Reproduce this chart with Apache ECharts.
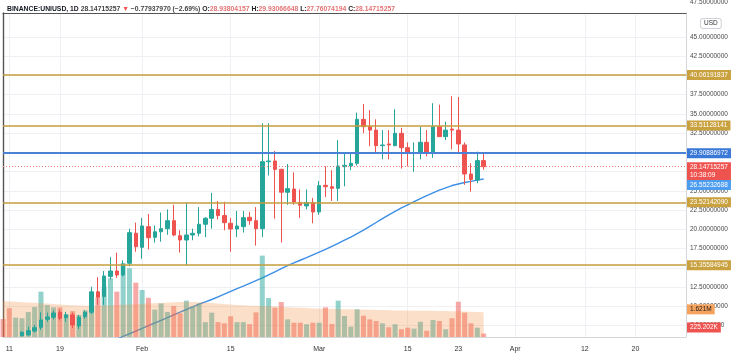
<!DOCTYPE html>
<html><head><meta charset="utf-8">
<script src="https://cdn.jsdelivr.net/npm/echarts@6/dist/echarts.min.js"></script>
<style>html,body{margin:0;padding:0;background:#fff}#c{width:736px;height:356px}</style>
</head><body><div id="c"></div>
<script>
// ---------- data ----------
const categoryStart = '2021-01-10';
const categoryCount = 109;

const candleStart = '2021-01-13';
const opens  = [6.2,6.3,6.8,7.29,8.33,8.6,9.24,8.54,8.9,7.46,8.67,9.24,11.9,11.3,13.9,14.6,14.08,15.6,19.5,17.68,20.36,18.98,19.7,20.1,21.14,19.19,18.63,19.28,19.5,20.67,21.45,22.6,21.8,20.8,20.06,20.36,21.58,21.14,20.1,28.8,28.89,27.8,24.83,25.25,23.48,23.05,23.48,22.27,25.73,25.55,25.34,28.15,28.24,28.59,34.3,33.35,32.9,30.88,31.1,30.88,32.48,30.62,29.93,29.97,31.32,29.97,33.35,32.05,33.04,32.9,30.97,27.2,26.42,28.938];
const closes = [6.64,6.85,7.24,8.24,8.63,9.15,8.46,8.9,7.6,8.6,9.24,11.9,11.2,13.95,14.6,14.08,15.51,19.58,17.76,20.45,18.93,19.7,20.1,21.14,19.28,18.63,19.28,19.5,20.67,21.45,22.6,21.8,20.88,20.06,20.45,21.53,21.14,20.1,28.8,28.89,27.8,24.83,25.3,23.57,23.14,23.48,22.27,25.68,25.55,25.34,28.24,28.33,28.59,34.3,33.35,32.9,30.88,30.97,30.97,32.48,30.62,29.97,29.97,31.32,29.97,33.35,32.05,32.9,32.9,31.1,27.2,26.5,28.94,28.147];
const lows   = [6.1,6.2,6.6,6.94,8.0,8.3,8.2,8.0,7.2,7.07,8.4,9.0,10.2,10.2,13.5,13.7,13.9,15.2,17.1,16.2,17.4,18.3,18.4,19.3,19.1,17.0,15.36,18.6,19.1,19.0,20.1,21.3,19.9,17.1,19.0,19.6,20.6,17.9,19.0,27.0,21.4,18.3,23.2,23.2,21.5,22.6,20.8,21.9,24.2,23.7,23.7,25.6,27.7,28.3,32.5,30.8,30.0,29.1,29.1,30.8,27.9,28.2,27.5,29.1,29.5,29.3,32.0,31.6,30.4,30.0,25.8,24.9,26.0,27.76];
const highs  = [6.8,7.37,7.6,9.24,9.2,9.5,9.6,9.3,9.2,8.9,9.5,12.56,13.8,14.6,16.4,17.0,16.0,20.1,20.88,21.5,22.0,20.5,22.2,22.6,23.2,19.9,23.52,20.1,22.9,21.6,24.75,23.7,23.6,21.5,22.4,22.4,22.3,22.9,33.8,33.8,30.2,27.9,28.5,27.4,25.2,25.2,24.1,26.3,28.2,27.7,31.6,30.0,29.8,35.17,36.3,35.5,34.3,32.9,32.9,35.6,33.2,31.3,31.3,33.35,32.9,36.4,36.2,34.0,37.3,37.2,31.3,28.6,30.1,29.93];

const maStart = '2021-01-27';
const ma = [5.4,5.75,6.1,6.45,6.8,7.15,7.5,7.85,8.2,8.55,8.9,9.25,9.6,9.95,10.3,10.6,10.9,11.25,11.6,11.95,12.3,12.65,13.0,13.35,13.7,14.1,14.5,14.9,15.3,15.65,16.0,16.35,16.7,17.05,17.4,17.8,18.2,18.6,19.0,19.45,19.9,20.4,20.9,21.4,21.9,22.35,22.8,23.2,23.6,24.0,24.4,24.75,25.1,25.4,25.7,25.9,26.1,26.25,26.4,26.55];

const volumeStart = '2021-01-10';
const volumes = [1.18,1.89,1.27,1.23,1.64,1.97,2.98,2.1,1.95,1.95,1.5,1.7,1.45,1.75,2.2,2.6,3.3,3.86,2.98,4.85,4.52,3.57,3.09,2.58,1.8,2.21,1.65,2.04,1.56,2.39,2.0,2.2,0.98,1.6,0.98,0.9,1.36,0.98,0.98,0.84,1.62,5.35,2.56,1.93,2.3,1.16,0.94,0.94,0.84,0.94,0.94,1.95,0.86,2.39,1.38,0.68,1.82,1.4,1.16,1.05,0.9,0.64,0.84,0.51,0.61,0.55,1.0,0.41,1.12,1.05,0.51,1.23,2.32,1.6,0.9,0.61,0.225202];
const volumeUpBeforeCandles = [false,false,true];
const volumeMA = [2.35,2.33,2.31,2.29,2.27,2.25,2.22,2.2,2.17,2.14,2.11,2.09,2.07,2.05,2.05,2.06,2.07,2.08,2.1,2.12,2.14,2.16,2.18,2.2,2.22,2.24,2.26,2.28,2.3,2.31,2.3,2.28,2.26,2.23,2.2,2.17,2.14,2.11,2.08,2.06,2.05,2.04,2.02,2.0,1.98,1.96,1.94,1.92,1.9,1.88,1.87,1.86,1.85,1.84,1.83,1.82,1.81,1.8,1.79,1.78,1.77,1.76,1.75,1.74,1.74,1.73,1.73,1.72,1.72,1.71,1.71,1.7,1.69,1.68,1.66,1.64,1.621];

const priceTicks = [7.5,10,12.5,15,17.5,20,22.5,25,27.5,30,32.5,35,37.5,40,42.5,45];
const topTickLabel = '47.50000000';
const xTickDates = ['2021-01-11','2021-01-19','2021-02-01','2021-02-15','2021-03-01','2021-03-15','2021-03-23','2021-04-01','2021-04-12','2021-04-20'];
const xTickLabels = ['11','19','Feb','15','Mar','15','23','Apr','12','20'];

const goldLevels = [40.06191837, 33.51128141, 23.52142090, 15.35584945];
const blueLevel = 29.90886972;
const lastPrice = 28.14715257;
const lastTime = '10:38:09';
const maLast = 26.55232688;
const volMALastLabel = '1.621M';
const volMALast = 1.621;
const lastVolumeLabel = '225.202K';
const lastVolume = 0.225202;

const headerSymbol = 'BINANCE:UNIUSD, 1D';
const headerPrice = '28.14715257';
const headerChange = '\u22120.77937970 (\u22122.69%)';
const headerO = '28.93804157', headerH = '29.93066648', headerL = '27.76074194', headerC = '28.14715257';

// ---------- build ----------
function addDays(s, n) {
  const d = new Date(s + 'T00:00:00Z');
  d.setUTCDate(d.getUTCDate() + n);
  return d.toISOString().slice(0, 10);
}
function dayIndex(s) {
  return Math.round((new Date(s + 'T00:00:00Z') - new Date(categoryStart + 'T00:00:00Z')) / 86400000);
}
const categories = [];
for (let i = 0; i < categoryCount; i++) categories.push(addDays(categoryStart, i));

const UP = '#26a69a', DOWN = '#ef5350';
const candleData = categories.map(() => '-');
const cOff = dayIndex(candleStart);
opens.forEach((o, k) => { candleData[cOff + k] = [o, closes[k], lows[k], highs[k]]; });

const maData = categories.map(() => '-');
const mOff = dayIndex(maStart);
ma.forEach((v, k) => { maData[mOff + k] = v; });

const vOff = dayIndex(volumeStart);
const volData = categories.map(() => '-');
const volMAData = categories.map(() => '-');
volumes.forEach((v, k) => {
  const idx = vOff + k;
  const ci = idx - cOff;
  let up;
  if (ci >= 0 && ci < opens.length) up = closes[ci] >= opens[ci];
  else up = volumeUpBeforeCandles[k];
  volData[idx] = { value: v, itemStyle: { color: up ? 'rgba(38,166,154,0.5)' : 'rgba(239,83,80,0.5)' } };
});
volumeMA.forEach((v, k) => { volMAData[vOff + k] = v; });

const FONT = 'Liberation Sans, Arial, sans-serif';
const tickSet = new Set(xTickDates);
const boxLabel = { show: true, position: 'end', distance: 1, fontSize: 6.5, fontFamily: FONT, color: '#fff', padding: [1, 3, 1, 3], lineHeight: 8 };
const HIDDEN_LINE = { color: 'rgba(0,0,0,0)', width: 1, type: 'solid' };

const chart = echarts.init(document.getElementById('c'), null, { renderer: 'canvas' });
chart.setOption({
  animation: false,
  backgroundColor: '#ffffff',
  title: {
    left: 2, top: 1,
    text: '{s|' + headerSymbol + '} {p|' + headerPrice + '} {r|\u25BC} {p|' + headerChange + '} {k|O:}{v|' + headerO + '} {k|H:}{v|' + headerH + '} {k|L:}{v|' + headerL + '} {k|C:}{v|' + headerC + '}',
    textStyle: {
      fontSize: 6.8, fontFamily: FONT,
      rich: {
        s: { fontWeight: 'bold', color: '#131722', fontSize: 6.8, fontFamily: FONT },
        p: { color: '#444', fontSize: 6.8, fontFamily: FONT },
        r: { color: '#ef5350', fontSize: 6.8, fontFamily: FONT },
        k: { color: '#222', fontSize: 6.8, fontWeight: 'bold', fontFamily: FONT },
        v: { color: '#e57373', fontSize: 6.8, fontFamily: FONT }
      }
    }
  },
  grid: { left: 3, right: 50, top: 13, bottom: 19, containLabel: false },
  xAxis: [{
    type: 'category', data: categories, boundaryGap: false,
    axisLine: { show: true, lineStyle: { color: '#d4d6da', width: 1 } },
    axisTick: { show: false },
    axisLabel: {
      interval: (i, v) => tickSet.has(v),
      formatter: v => xTickLabels[xTickDates.indexOf(v)] || '',
      fontSize: 7, fontFamily: FONT, color: '#333', margin: 9
    },
    splitLine: { show: true, interval: (i, v) => tickSet.has(v), lineStyle: { color: '#eef0f4', width: 1 } }
  }, {
    type: 'category', data: categories, boundaryGap: false, position: 'top',
    axisLine: { show: true, lineStyle: { color: '#555', width: 1.2 } },
    axisTick: { show: false }, axisLabel: { show: false }, splitLine: { show: false }
  }],
  yAxis: [{
    type: 'value', position: 'right', min: 6.03, max: 48.11, scale: true,
    axisLine: { show: true, lineStyle: { color: '#d4d6da' } },
    axisTick: { show: false, customValues: priceTicks },
    axisLabel: { customValues: priceTicks, formatter: v => v.toFixed(8), fontSize: 6.5, fontFamily: FONT, color: '#4a4a4a', margin: 4 },
    splitLine: { show: true, lineStyle: { color: '#eef0f4', width: 1 } }
  }, {
    type: 'value', min: 0, max: 21.3, show: false, splitLine: { show: false }
  }, {
    type: 'value', position: 'left', min: 6.03, max: 48.11,
    axisLine: { show: true, lineStyle: { color: '#555', width: 1.4 } },
    axisTick: { show: false }, axisLabel: { show: false }, splitLine: { show: false }
  }],
  series: [{
    name: 'MA', type: 'line', data: maData, xAxisIndex: 0, yAxisIndex: 0, z: 1,
    showSymbol: false, symbol: 'none', connectNulls: false,
    lineStyle: { color: '#3d8ee6', width: 1.4 }
  }, {
    name: 'Volume', type: 'bar', data: volData, xAxisIndex: 0, yAxisIndex: 1, z: 2,
    barWidth: 5
  }, {
    name: 'Volume MA', type: 'line', data: volMAData, xAxisIndex: 0, yAxisIndex: 1, z: 3,
    showSymbol: false, symbol: 'none', lineStyle: { width: 0, color: 'rgba(0,0,0,0)' },
    areaStyle: { color: 'rgba(245,140,60,0.4)' },
    markLine: {
      symbol: ['none', 'none'], silent: true, animation: false,
      data: [
        { yAxis: volMALast, lineStyle: HIDDEN_LINE, label: Object.assign({}, boxLabel, { formatter: volMALastLabel, backgroundColor: '#f6a35e', color: '#222', offset: [0, -3] }) },
        { yAxis: lastVolume, lineStyle: HIDDEN_LINE, label: Object.assign({}, boxLabel, { formatter: lastVolumeLabel, backgroundColor: '#ef5350', color: '#fff', offset: [0, -6] }) }
      ]
    }
  }, {
    name: 'UNIUSD', type: 'candlestick', data: candleData, xAxisIndex: 0, yAxisIndex: 0, z: 4,
    barWidth: 4,
    itemStyle: { color: UP, color0: DOWN, borderColor: UP, borderColor0: DOWN, borderWidth: 1 },
    markLine: {
      symbol: ['none', 'none'], silent: true, animation: false,
      data: goldLevels.map(v => ({
        yAxis: v, lineStyle: { color: '#c49c3c', width: 1.6, type: 'solid' },
        label: Object.assign({}, boxLabel, { formatter: v.toFixed(8), backgroundColor: '#c9a13f' })
      })).concat([
        { yAxis: blueLevel, lineStyle: { color: '#4a82d6', width: 2, type: 'solid' },
          label: Object.assign({}, boxLabel, { formatter: blueLevel.toFixed(8), backgroundColor: '#3a78d8' }) },
        { yAxis: lastPrice, lineStyle: { color: '#f07a7a', width: 1, type: [1, 2] },
          label: Object.assign({}, boxLabel, { formatter: lastPrice.toFixed(8) + '\n' + lastTime, backgroundColor: '#ef5350', padding: [2, 3, 1, 3], offset: [0, 5] }) },
        { yAxis: maLast, lineStyle: HIDDEN_LINE,
          label: Object.assign({}, boxLabel, { formatter: maLast.toFixed(8), backgroundColor: '#4c9cf0', offset: [0, 6] }) }
      ])
    }
  }],
  graphic: [
    { type: 'text', left: 690, top: -1, z: 10, style: { text: topTickLabel, fontSize: 6.5, fontFamily: FONT, fill: '#4a4a4a' } },
    { type: 'text', left: 700, top: 18, z: 10, style: { text: 'USD', fontSize: 6.5, fontFamily: FONT, fill: '#333', backgroundColor: '#fff', borderColor: '#cfd2d8', borderWidth: 1, borderRadius: 2, padding: [1, 3, 1, 3] } }
  ]
});
</script>
</body></html>
